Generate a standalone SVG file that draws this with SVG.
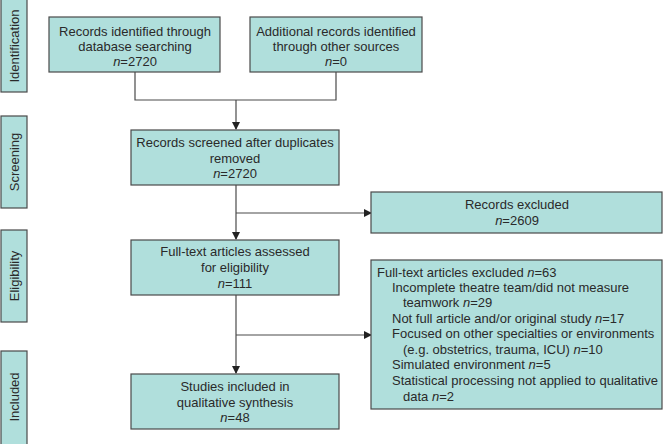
<svg xmlns="http://www.w3.org/2000/svg" width="663" height="444" viewBox="0 0 663 444">
<style>
.box{fill:#b0dfdc;stroke:#4a4a4a;stroke-width:1.2}
.side{fill:#b0dfdc;stroke:#4a4a4a;stroke-width:1.2}
text{font-family:"Liberation Sans",Arial,sans-serif;font-size:13px;fill:#2a2a2a}
.c{text-anchor:middle}
.ln{fill:none;stroke:#4a4a4a;stroke-width:1.2}
</style>
<defs>
<marker id="ah" markerWidth="8" markerHeight="8" refX="7" refY="4" orient="auto" markerUnits="userSpaceOnUse">
<path d="M0,0 L8,4 L0,8 z" fill="#222"/>
</marker>
</defs>
<g id="side-identification"><rect class="side" x="1" y="-1" width="26" height="93"/><text class="c" transform="translate(19,46) rotate(-90)">Identification</text></g>
<g id="side-screening"><rect class="side" x="1" y="116" width="26" height="92"/><text class="c" transform="translate(19,162) rotate(-90)">Screening</text></g>
<g id="side-eligibility"><rect class="side" x="1" y="230" width="26" height="92"/><text class="c" transform="translate(19,276) rotate(-90)">Eligibility</text></g>
<g id="side-included"><rect class="side" x="1" y="351" width="26" height="94"/><text class="c" transform="translate(19,397) rotate(-90)">Included</text></g>

<g id="connectors">
<path class="ln" d="M135,72 V100 H336 V72"/>
<path class="ln" d="M236,100 V129" marker-end="url(#ah)"/>
<path class="ln" d="M236,185 V239" marker-end="url(#ah)"/>
<path class="ln" d="M236,213 H371" marker-end="url(#ah)"/>
<path class="ln" d="M236,295 V373" marker-end="url(#ah)"/>
<path class="ln" d="M236,335 H371" marker-end="url(#ah)"/>
</g>

<g id="n1"><rect class="box" x="49" y="17" width="171" height="55"/>
<text class="c" x="135" y="36">Records identified through</text>
<text class="c" x="135" y="51">database searching</text>
<text class="c" x="135" y="66"><tspan font-style="italic">n</tspan>=2720</text></g>

<g id="n2"><rect class="box" x="250" y="17" width="172" height="55"/>
<text class="c" x="336" y="36">Additional records identified</text>
<text class="c" x="336" y="51">through other sources</text>
<text class="c" x="336" y="66"><tspan font-style="italic">n</tspan>=0</text></g>

<g id="n3"><rect class="box" x="131" y="130" width="208" height="55"/>
<text class="c" x="235" y="147">Records screened after duplicates</text>
<text class="c" x="235" y="163">removed</text>
<text class="c" x="235" y="178"><tspan font-style="italic">n</tspan>=2720</text></g>

<g id="n4"><rect class="box" x="371" y="192" width="291" height="41"/>
<text class="c" x="517" y="209">Records excluded</text>
<text class="c" x="517" y="225"><tspan font-style="italic">n</tspan>=2609</text></g>

<g id="n5"><rect class="box" x="131" y="240" width="208" height="55"/>
<text class="c" x="235" y="256">Full-text articles assessed</text>
<text class="c" x="235" y="272">for eligibility</text>
<text class="c" x="235" y="288"><tspan font-style="italic">n</tspan>=111</text></g>

<g id="n6"><rect class="box" x="371" y="260" width="291" height="149"/>
<text x="377" y="277">Full-text articles excluded <tspan font-style="italic">n</tspan>=63</text>
<text x="392" y="292">Incomplete theatre team/did not measure</text>
<text x="403" y="307">teamwork <tspan font-style="italic">n</tspan>=29</text>
<text x="392" y="323">Not full article and/or original study <tspan font-style="italic">n</tspan>=17</text>
<text x="392" y="338">Focused on other specialties or environments</text>
<text x="403" y="354">(e.g. obstetrics, trauma, ICU) <tspan font-style="italic">n</tspan>=10</text>
<text x="392" y="369">Simulated environment <tspan font-style="italic">n</tspan>=5</text>
<text x="392" y="385">Statistical processing not applied to qualitative</text>
<text x="403" y="401">data <tspan font-style="italic">n</tspan>=2</text></g>

<g id="n7"><rect class="box" x="131" y="374" width="208" height="55"/>
<text class="c" x="235" y="391">Studies included in</text>
<text class="c" x="235" y="407">qualitative synthesis</text>
<text class="c" x="235" y="422"><tspan font-style="italic">n</tspan>=48</text></g>
</svg>
